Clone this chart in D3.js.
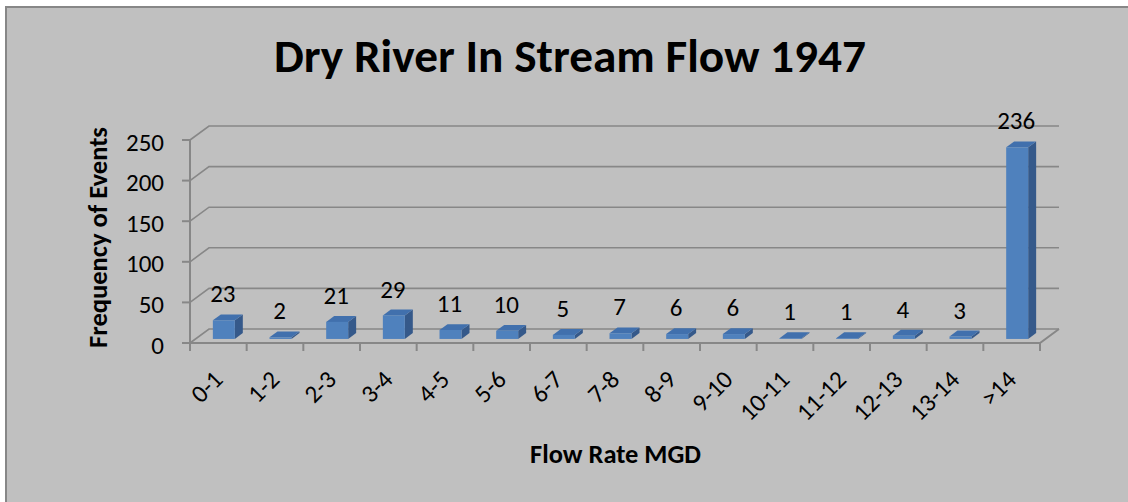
<!DOCTYPE html>
<html>
<head>
<meta charset="utf-8">
<script src="https://cdn.jsdelivr.net/npm/d3@7"></script>
<style>
html,body{margin:0;padding:0;background:#fff;overflow:hidden;}
svg{display:block;}
text{font-family:Carlito,Calibri,"Liberation Sans",Arial,sans-serif;fill:#000;}
</style>
</head>
<body>
<svg id="chart" width="1128" height="502"></svg>
<script>
const categories = ["0-1","1-2","2-3","3-4","4-5","5-6","6-7","7-8","8-9","9-10","10-11","11-12","12-13","13-14",">14"];
const values = [23,2,21,29,11,10,5,7,6,6,1,1,4,3,236];
const yTicks = [0,50,100,150,200,250];
const titleText = "Dry River In Stream Flow 1947";
const yTitleText = "Frequency of Events";
const xTitleText = "Flow Rate MGD";

const svg = d3.select("#chart");
// chart area
svg.append("rect").attr("x",6).attr("y",7).attr("width",1300).attr("height",700)
  .attr("fill","#c0c0c0").attr("stroke","#878787").attr("stroke-width",2);

const depth = {dx:19, dy:-14};
const x = d3.scaleBand().domain(categories).range([190,1040]).paddingInner(0.612).paddingOuter(0.306);
const y = d3.scaleLinear().domain([0,250]).range([343,140]);
const step = x.step();
const P = (px, py, z) => [px + z*depth.dx, py + z*depth.dy];

const grid = svg.append("g");
const gridColor = "#878787";
yTicks.forEach(t => {
  const yy = y(t);
  grid.append("polyline")
    .attr("points", [[190,yy], P(190,yy,1), P(1040,yy,1)].map(p=>p.join(",")).join(" "))
    .attr("fill","none").attr("stroke",gridColor).attr("stroke-width",1.6);
});
grid.append("polyline")
  .attr("points", [[190,y(0)],[1040,y(0)], P(1040,y(0),1)].map(p=>p.join(",")).join(" "))
  .attr("fill","none").attr("stroke",gridColor).attr("stroke-width",2);
grid.append("line").attr("x1",190).attr("x2",190).attr("y1",y(250)).attr("y2",y(0))
  .attr("stroke",gridColor).attr("stroke-width",2);
yTicks.forEach(t => {
  grid.append("line").attr("x1",182).attr("x2",190).attr("y1",y(t)).attr("y2",y(t))
    .attr("stroke",gridColor).attr("stroke-width",2);
});
d3.range(categories.length+1).forEach(i => {
  const xx = 190 + i*step;
  grid.append("line").attr("x1",xx).attr("x2",xx).attr("y1",y(0)).attr("y2",y(0)+8)
    .attr("stroke",gridColor).attr("stroke-width",2);
});

svg.append("g").selectAll("text").data(yTicks).join("text")
  .attr("x",164).attr("y",d=>y(d)+10.5).attr("text-anchor","end")
  .attr("font-size",25).text(d=>d);

const z0 = 0.29, z1 = 0.71;
const bw = x.bandwidth();
const bars = svg.append("g");
categories.forEach((c,i) => {
  const v = values[i];
  const x0 = x(c), x1 = x0 + bw;
  const yt = y(v), yb = y(0);
  const fTL = P(x0,yt,z0), fTR = P(x1,yt,z0), fBR = P(x1,yb,z0), fBL = P(x0,yb,z0);
  const bTL = P(x0,yt,z1), bTR = P(x1,yt,z1), bBR = P(x1,yb,z1);
  const g = bars.append("g");
  g.append("polygon").attr("points",[fTR,bTR,bBR,fBR].map(p=>p.join(",")).join(" "))
    .attr("fill","#35598a");
  g.append("polygon").attr("points",[fTL,bTL,bTR,fTR].map(p=>p.join(",")).join(" "))
    .attr("fill","#4170ad");
  g.append("rect").attr("x",fTL[0]).attr("y",fTL[1]).attr("width",bw).attr("height",Math.max(0,fBL[1]-fTL[1]))
    .attr("fill","#4f81bd");
  svg.append("text").attr("x",(fTL[0]+fTR[0])/2 - 1).attr("y",bTL[1]-12)
    .attr("text-anchor","middle").attr("font-size",25).text(v);
});

svg.append("g").selectAll("text").data(categories).join("text")
  .attr("text-anchor","end").attr("font-size",25)
  .attr("transform",d=>`translate(${x(d)+bw/2+6},381) rotate(-45)`)
  .text(d=>d);

function fitSize(sel, w, base){
  const len = sel.node().getComputedTextLength();
  sel.attr("font-size", base * w / len);
}
const title = svg.append("text").attr("x",570).attr("y",72).attr("text-anchor","middle")
  .attr("font-size",40).attr("font-weight","bold").text(titleText);
fitSize(title, 592, 40);
const yt = svg.append("text").attr("transform","translate(107,237.5) rotate(-90)")
  .attr("text-anchor","middle").attr("font-size",24).attr("font-weight","bold").text(yTitleText);
fitSize(yt, 221, 24);
const xt = svg.append("text").attr("x",615.5).attr("y",463).attr("text-anchor","middle")
  .attr("font-size",24).attr("font-weight","bold").text(xTitleText);
fitSize(xt, 171, 24);
</script>
</body>
</html>
